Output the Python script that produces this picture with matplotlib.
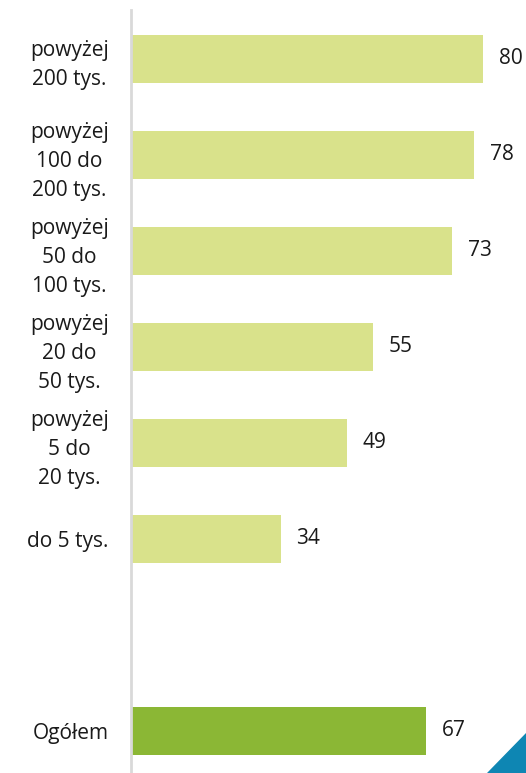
import matplotlib.pyplot as plt
from matplotlib.patches import Polygon

# dane
kategorie = ['powyżej\n200 tys.', 'powyżej\n100 do\n200 tys.', 'powyżej\n50 do\n100 tys.',
             'powyżej\n20 do\n50 tys.', 'powyżej\n5 do\n20 tys.', 'do 5 tys.', '', 'Ogółem']
wartosci = [80, 78, 73, 55, 49, 34, None, 67]
kolory = ['#d9e28b'] * 6 + [None, '#8bb735']

plt.rcParams['font.family'] = ['Open Sans', 'DejaVu Sans']

fig = plt.figure(figsize=(5.26, 7.73), dpi=100)
ax = fig.add_axes([131 / 526, 0, 1 - 131 / 526, 1 - 10 / 773])

pos = list(range(len(kategorie)))
for p, v, c in zip(pos, wartosci, kolory):
    if v is None:
        continue
    ax.barh(p, v, height=0.5, color=c)
    ax.annotate(str(v), xy=(v, p), xytext=(11.5, 0), textcoords='offset points',
                va='center', ha='left', fontsize=15, color='#1a1a1a')

ax.set_xlim(0, 89.8)
ax.set_ylim(7.4375, -0.51)
ax.set_yticks(pos)
ax.set_yticklabels(kategorie, fontsize=15, color='#1a1a1a', multialignment='center', linespacing=1.5)
ax.tick_params(axis='y', length=0, pad=16)
ax.set_xticks([])
for s in ['top', 'right', 'bottom']:
    ax.spines[s].set_visible(False)
ax.spines['left'].set_color('#d9d9d9')
ax.spines['left'].set_linewidth(2)

# niebieski trojkat w rogu
fig.patches.append(Polygon([[487 / 526, 0], [1, 0], [1, 40 / 773]], closed=True,
                           transform=fig.transFigure, color='#0e86b3'))

plt.savefig('out.png', dpi=100)
